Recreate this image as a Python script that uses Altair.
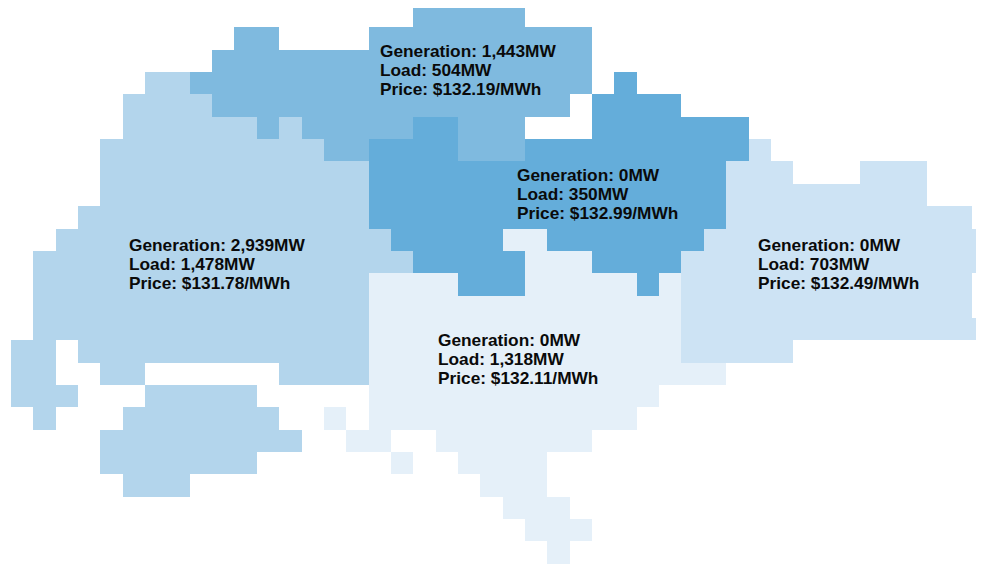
import altair as alt
import pandas as pd

# Each grid row of a zone: (row, first column, column after the last)
west_runs = [
    (3, 6, 8), (4, 5, 9), (5, 5, 11), (5, 12, 13), (6, 4, 14), (7, 4, 16), (8, 4, 16),
    (9, 3, 16), (10, 2, 17), (11, 1, 18), (12, 1, 16), (13, 1, 16), (14, 1, 16),
    (15, 0, 2), (15, 3, 16), (16, 0, 2), (16, 4, 6), (16, 12, 16),
    (17, 0, 3), (17, 6, 11), (18, 1, 2), (18, 5, 12), (19, 4, 13), (20, 4, 11), (21, 5, 8),
]
north_runs = [
    (0, 18, 23), (1, 10, 12), (1, 16, 26), (2, 9, 26), (3, 8, 26), (4, 9, 25),
    (5, 11, 12), (5, 13, 18), (5, 20, 23), (6, 14, 16), (6, 20, 23),
]
central_runs = [
    (3, 27, 28), (4, 26, 30), (5, 18, 20), (5, 26, 33), (6, 16, 20), (6, 23, 33),
    (7, 16, 32), (8, 16, 32), (9, 16, 32), (10, 17, 22), (10, 24, 31),
    (11, 18, 23), (11, 26, 30), (12, 20, 23), (12, 28, 29),
]
east_runs = [
    (6, 33, 34), (7, 32, 35), (7, 38, 41), (8, 32, 41), (9, 32, 43), (10, 31, 44),
    (11, 30, 44), (12, 30, 43), (13, 30, 43), (14, 30, 44), (15, 30, 35),
]
south_runs = [
    (10, 22, 24), (11, 23, 26), (12, 16, 20), (12, 23, 28), (12, 29, 30),
    (13, 16, 30), (14, 16, 30), (15, 16, 30), (16, 16, 32), (17, 16, 29),
    (18, 14, 15), (18, 16, 28), (19, 15, 17), (19, 19, 26), (20, 17, 18), (20, 20, 24),
    (21, 21, 24), (22, 22, 25), (23, 23, 26), (24, 24, 25),
]

zones = ["West", "North", "Central", "East", "South"]
zone_colors = ["#B3D5EC", "#7FBADF", "#64ADDA", "#CDE3F4", "#E5F0F9"]
all_runs = [west_runs, north_runs, central_runs, east_runs, south_runs]

generation = ["2,939MW", "1,443MW", "0MW", "0MW", "0MW"]
load = ["1,478MW", "504MW", "350MW", "703MW", "1,318MW"]
price = ["$131.78/MWh", "$132.19/MWh", "$132.99/MWh", "$132.49/MWh", "$132.11/MWh"]
label_col = [5.30, 16.51, 22.64, 33.41, 19.12]
label_row = [10.77, 2.10, 7.66, 10.80, 15.05]

cells = pd.DataFrame(
    [
        {"zone": z, "row": r, "row2": r + 1, "col": a, "col2": b}
        for z, runs in zip(zones, all_runs)
        for r, a, b in runs
    ]
)
labels = pd.DataFrame(
    [
        {"col": c, "row": r + i * 0.85, "line": line}
        for c, r, g, l, p in zip(label_col, label_row, generation, load, price)
        for i, line in enumerate([f"Generation: {g}", f"Load: {l}", f"Price: {p}"])
    ]
)

xs = alt.Scale(domain=[-0.134, 43.177], nice=False, zero=False, round=True)
ys = alt.Scale(domain=[0.134, 25.01], nice=False, zero=False, reverse=True, round=True)

rects = (
    alt.Chart(cells)
    .mark_rect(clip=True)
    .encode(
        x=alt.X("col:Q", scale=xs, axis=None),
        x2="col2:Q",
        y=alt.Y("row:Q", scale=ys, axis=None),
        y2="row2:Q",
        color=alt.Color("zone:N", scale=alt.Scale(domain=zones, range=zone_colors), legend=None),
    )
)
texts = (
    alt.Chart(labels)
    .mark_text(align="left", baseline="middle", font="Liberation Sans", fontWeight="bold", fontSize=17.3, color="#0a0a0a")
    .encode(
        x=alt.X("col:Q", scale=xs, axis=None),
        y=alt.Y("row:Q", scale=ys, axis=None),
        text="line:N",
    )
)

chart = (
    alt.layer(rects, texts)
    .properties(width=968, height=556, padding=0, background="white")
    .configure_view(stroke=None)
)
chart.save("out.html", embed_options={"renderer": "svg", "actions": False})
